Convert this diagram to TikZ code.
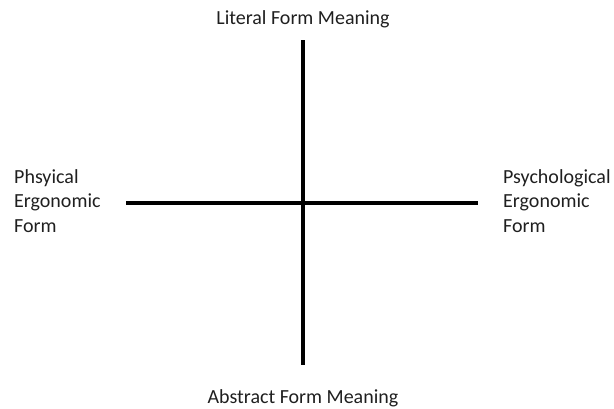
\documentclass[tikz,border=0pt]{standalone}
\usepackage{fontspec}
\setmainfont{Carlito}
\begin{document}
\begin{tikzpicture}[x=1pt,y=-1pt,
  lbl/.style={inner sep=0pt, font=\fontsize{20}{24.5}\selectfont, text=black!88},
  axis/.style={line width=4pt, black}]
\useasboundingbox (0,0) rectangle (614,408);
\coordinate (top) at (303,40);
\coordinate (bot) at (303,365);
\coordinate (lft) at (126,203);
\coordinate (rgt) at (478,203);
\draw[axis] (top) -- (bot);
\draw[axis] (lft) -- (rgt);
\node[lbl, anchor=base] (t) at (303,24) {Literal Form Meaning};
\node[lbl, anchor=base] (b) at (303,403) {Abstract Form Meaning};
\node[lbl, anchor=base west, align=left] (l) at (14,232) {Phsyical\\Ergonomic\\Form};
\node[lbl, anchor=base west, align=left] (r) at (503,232) {Psychological\\Ergonomic\\Form};
\end{tikzpicture}
\end{document}
